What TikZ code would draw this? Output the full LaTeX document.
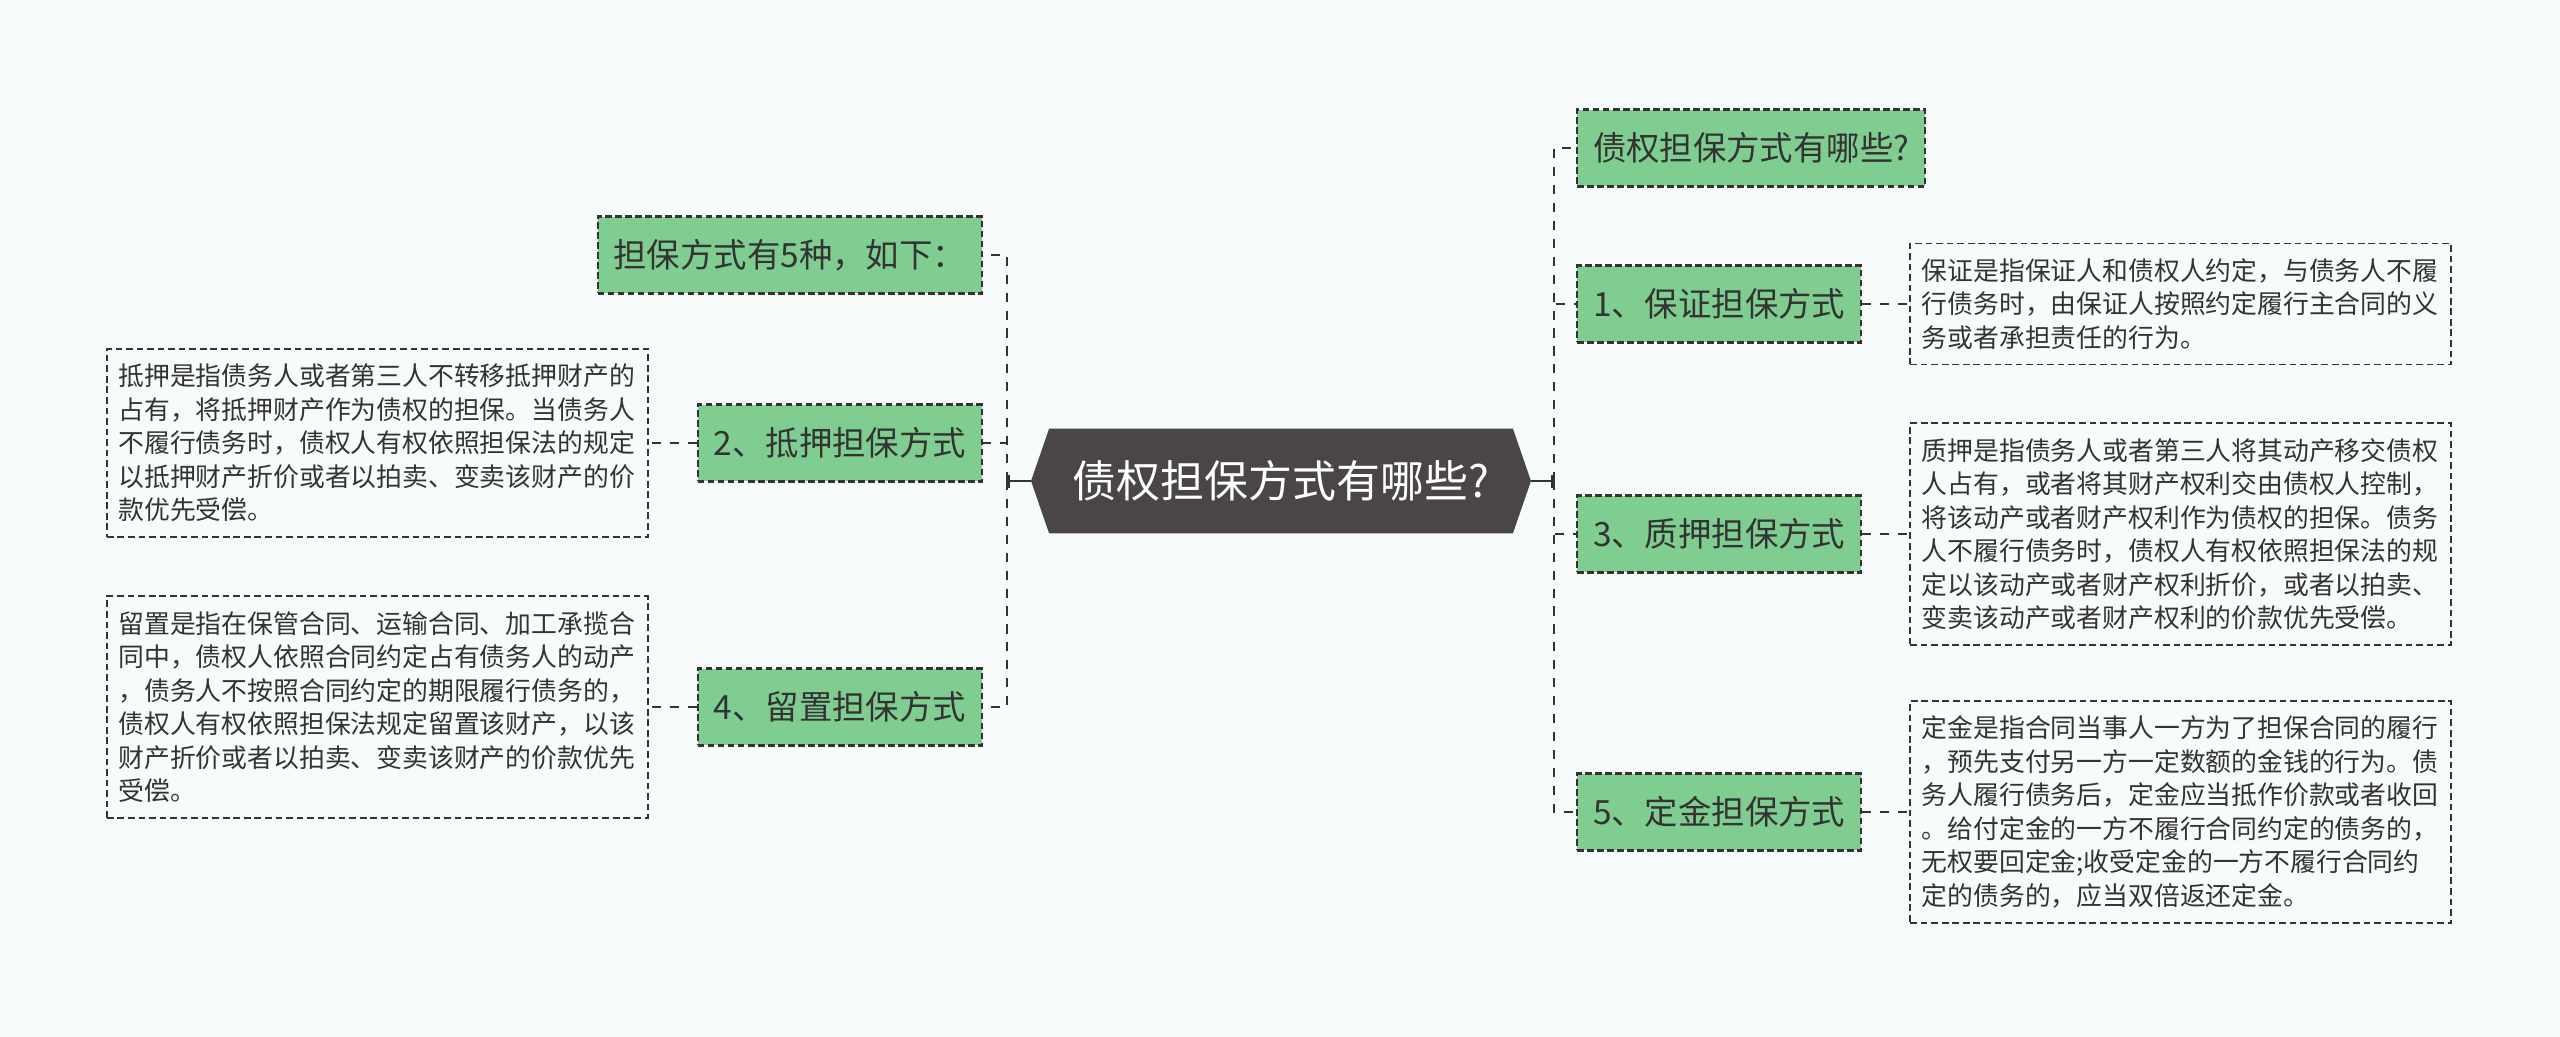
\documentclass[tikz,border=0pt]{standalone}
\usepackage{fontspec}
\setmainfont{Noto Sans CJK SC}
\usetikzlibrary{positioning, shapes.symbols, arrows.meta}
\definecolor{bgcol}{RGB}{247,251,252}
\definecolor{leafgreen}{RGB}{128,205,145}
\definecolor{rootgray}{RGB}{74,69,70}
\definecolor{linegray}{RGB}{51,51,51}

\begin{document}
\begin{tikzpicture}[
  x=0.02cm, y=-0.02cm,
  root/.style={shape=signal, signal to=west and east, signal pointer angle=142,
    fill=rootgray, text=white, minimum width=10cm, minimum height=2.1cm, inner sep=0pt,
    font=\fontsize{25pt}{30pt}\selectfont},
  branch/.style={draw=linegray, line width=1.2pt, dash pattern=on 3.8pt off 1.9pt,
    fill=leafgreen, text=black!80, minimum height=1.54cm, inner xsep=0.32cm,
    font=\fontsize{19pt}{23pt}\selectfont},
  note/.style={draw=linegray, line width=1.05pt, dash pattern=on 3.8pt off 2.2pt,
    align=left, text width=10.36cm, inner xsep=0.23cm, inner ysep=0.3cm,
    text=black!80, font=\fontsize{14.7pt}{19.06pt}\selectfont},
  link/.style={draw=linegray, line width=1.5pt, dash pattern=on 5.2pt off 5pt},
  stem/.style={draw=linegray, line width=1.6pt}
  ]
  % canvas
  \fill[bgcol] (0,0) rectangle (2560,1037);
  \useasboundingbox (0,0) rectangle (2560,1037);

  % central topic
  \node[root] (root) at (1281,481) {债权担保方式有哪些?};
  \coordinate (ltrunk) at (1007,481);
  \coordinate (rtrunk) at (1554,481);

  % left branches
  \node[branch, anchor=east] (n0) at (983,255) {担保方式有5种，如下：};
  \node[branch, anchor=east] (n2) at (983,443) {2、抵押担保方式};
  \node[branch, anchor=east] (n4) at (983,707) {4、留置担保方式};
  \node[note, left=0.96cm of n2] (d2) {抵押是指债务人或者第三人不转移抵押财产的\\
    占有，将抵押财产作为债权的担保。当债务人\\
    不履行债务时，债权人有权依照担保法的规定\\
    以抵押财产折价或者以拍卖、变卖该财产的价\\
    款优先受偿。};
  \node[note, left=0.96cm of n4] (d4) {留置是指在保管合同、运输合同、加工承揽合\\
    同中，债权人依照合同约定占有债务人的动产\\
    ，债务人不按照合同约定的期限履行债务的，\\
    债权人有权依照担保法规定留置该财产，以该\\
    财产折价或者以拍卖、变卖该财产的价款优先\\
    受偿。};

  % right branches
  \node[branch, anchor=west] (r0) at (1576,148) {债权担保方式有哪些?};
  \node[branch, anchor=west] (n1) at (1576,304) {1、保证担保方式};
  \node[branch, anchor=west] (n3) at (1576,534) {3、质押担保方式};
  \node[branch, anchor=west] (n5) at (1576,812) {5、定金担保方式};
  \node[note, right=0.94cm of n1] (d1) {保证是指保证人和债权人约定，与债务人不履\\
    行债务时，由保证人按照约定履行主合同的义\\
    务或者承担责任的行为。};
  \node[note, right=0.94cm of n3] (d3) {质押是指债务人或者第三人将其动产移交债权\\
    人占有，或者将其财产权利交由债权人控制，\\
    将该动产或者财产权利作为债权的担保。债务\\
    人不履行债务时，债权人有权依照担保法的规\\
    定以该动产或者财产权利折价，或者以拍卖、\\
    变卖该动产或者财产权利的价款优先受偿。};
  \node[note, right=0.94cm of n5] (d5) {定金是指合同当事人一方为了担保合同的履行\\
    ，预先支付另一方一定数额的金钱的行为。债\\
    务人履行债务后，定金应当抵作价款或者收回\\
    。给付定金的一方不履行合同约定的债务的，\\
    无权要回定金;收受定金的一方不履行合同约\\
    定的债务的，应当双倍返还定金。};

  % connectors
  \draw[stem, -{Bar[width=0.26cm]}] (root.west) -- (ltrunk);
  \draw[stem, -{Bar[width=0.26cm]}] (root.east) -- (rtrunk);
  \foreach \n in {n0,n2,n4} \draw[link] (ltrunk) |- (\n.east);
  \foreach \n in {r0,n1,n3,n5} \draw[link] (rtrunk) |- (\n.west);
  \draw[link] (n2.west) -- (d2.east);
  \draw[link] (n4.west) -- (d4.east);
  \draw[link] (n1.east) -- (d1.west);
  \draw[link] (n3.east) -- (d3.west);
  \draw[link] (n5.east) -- (d5.west);
\end{tikzpicture}
\end{document}
